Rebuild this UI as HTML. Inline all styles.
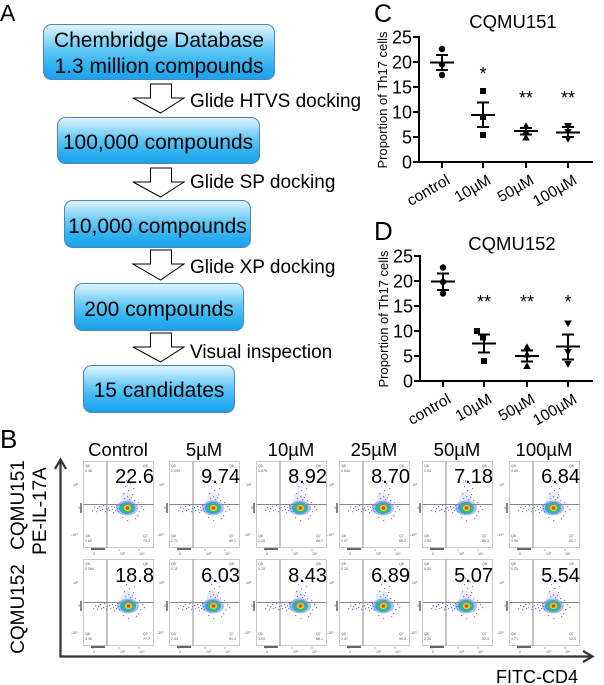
<!DOCTYPE html>
<html><head><meta charset="utf-8"><style>
html,body{margin:0;padding:0;background:#fff;}
svg{display:block;font-family:"Liberation Sans",Arial,sans-serif;}
.t{font-size:3.6px;fill:#555;}
.bn{font-size:20px;text-anchor:end;fill:#000;}
</style></head><body>
<svg width="604" height="685" viewBox="0 0 604 685" xmlns="http://www.w3.org/2000/svg">
<defs>
<linearGradient id="bg" x1="0" y1="0" x2="0" y2="1">
<stop offset="0" stop-color="#e3f5fd"/>
<stop offset="0.45" stop-color="#63c8f5"/>
<stop offset="0.75" stop-color="#2fb1f1"/>
<stop offset="1" stop-color="#1aa2eb"/>
</linearGradient>
<g id="blob">
<ellipse cx="-1" cy="-6" rx="6" ry="10" fill="#8a94e4" opacity="0.2"/>
<ellipse cx="0" cy="0" rx="11" ry="7.5" fill="#5868dc" opacity="0.45"/>
<g fill="#4a5ad8" opacity="0.75">
<rect x="-35" y="2" width="1.2" height="1.2"/><rect x="-33" y="-1" width="1.2" height="1.2"/><rect x="-31" y="3" width="1.2" height="1.2"/><rect x="-30" y="0" width="1.2" height="1.2"/><rect x="-28" y="-2" width="1.2" height="1.2"/><rect x="-27" y="2" width="1.2" height="1.2"/><rect x="-25" y="1" width="1.2" height="1.2"/><rect x="-24" y="-3" width="1.2" height="1.2"/><rect x="-22" y="3" width="1.2" height="1.2"/><rect x="-21" y="0" width="1.2" height="1.2"/><rect x="-19" y="-1" width="1.2" height="1.2"/><rect x="-18" y="2" width="1.2" height="1.2"/><rect x="-16" y="-2" width="1.2" height="1.2"/><rect x="-15" y="1" width="1.2" height="1.2"/><rect x="-14" y="4" width="1.2" height="1.2"/><rect x="-13" y="-1" width="1.2" height="1.2"/><rect x="-12" y="2" width="1.2" height="1.2"/><rect x="-11" y="-3" width="1.2" height="1.2"/><rect x="-10" y="0" width="1.2" height="1.2"/><rect x="-9" y="3" width="1.2" height="1.2"/>
<rect x="-2" y="-22" width="1.2" height="1.2"/><rect x="1" y="-18" width="1.2" height="1.2"/><rect x="3" y="-25" width="1.2" height="1.2"/><rect x="-4" y="-15" width="1.2" height="1.2"/><rect x="0" y="-12" width="1.2" height="1.2"/><rect x="5" y="-14" width="1.2" height="1.2"/><rect x="2" y="-9" width="1.2" height="1.2"/><rect x="-3" y="-10" width="1.2" height="1.2"/><rect x="6" y="-20" width="1.2" height="1.2"/><rect x="-1" y="-28" width="1.2" height="1.2"/><rect x="4" y="-11" width="1.2" height="1.2"/><rect x="7" y="-8" width="1.2" height="1.2"/>
<rect x="12" y="3" width="1.2" height="1.2"/><rect x="14" y="-2" width="1.2" height="1.2"/><rect x="10" y="7" width="1.2" height="1.2"/><rect x="8" y="10" width="1.2" height="1.2"/><rect x="-5" y="9" width="1.2" height="1.2"/><rect x="0" y="12" width="1.2" height="1.2"/><rect x="16" y="1" width="1.2" height="1.2"/><rect x="11" y="-6" width="1.2" height="1.2"/>
</g>
<ellipse cx="0" cy="0" rx="8" ry="6" fill="#2aa8e0"/>
<ellipse cx="0.5" cy="0" rx="5.5" ry="4.5" fill="#3cc050"/>
<ellipse cx="0.5" cy="0" rx="3.5" ry="3" fill="#e8e030"/>
<ellipse cx="0.5" cy="0" rx="2" ry="1.7" fill="#e84020"/>
</g>
<g id="frame">
<rect x="0.5" y="0.5" width="70" height="86" fill="none" stroke="#c8c8c8"/>
<path d="M24 0.5V86.5 M0.5 43.5H70.5" stroke="#888" fill="none"/>
<path d="M-2 42V52" stroke="#333" stroke-width="1.2"/>
<path d="M8 88H22" stroke="#333" stroke-width="1.5"/>
<path d="M36 88V90 M56 88V90 M10 88V90" stroke="#777" stroke-width="0.6"/>
</g>
</defs>

<!-- Panel A -->
<text x="0" y="21" font-size="23">A</text>
<g stroke="#4f86b6" stroke-width="1" fill="url(#bg)">
<rect x="43.5" y="24.5" width="231" height="55" rx="8"/>
<rect x="57.5" y="117.5" width="202" height="46" rx="8"/>
<rect x="64.5" y="200.5" width="186" height="47" rx="8"/>
<rect x="74.5" y="283.5" width="169" height="47" rx="8"/>
<rect x="83.5" y="365.5" width="151" height="47" rx="8"/>
</g>
<g font-size="21" text-anchor="middle" fill="#000">
<text x="159" y="47">Chembridge Database</text>
<text x="159" y="73">1.3 million compounds</text>
<text x="158" y="149">100,000 compounds</text>
<text x="157.5" y="233">10,000 compounds</text>
<text x="159" y="316">200 compounds</text>
<text x="159" y="397">15 candidates</text>
</g>
<g fill="#fff" stroke="#000" stroke-width="1">
<polygon points="150.5,84 171.5,84 171.5,98 184,98 160.5,113 133,98 150.5,98"/>
<polygon points="150.5,168 171.5,168 171.5,182 184,182 160.5,197 133,182 150.5,182"/>
<polygon points="150.5,250 171.5,250 171.5,264 184,264 160.5,280 133,264 150.5,264"/>
<polygon points="150.5,333 171.5,333 171.5,347 184,347 160.5,362 133,347 150.5,347"/>
</g>
<g font-size="19" fill="#000">
<text x="190" y="107">Glide HTVS docking</text>
<text x="190" y="188">Glide SP docking</text>
<text x="190" y="273">Glide XP docking</text>
<text x="190" y="358">Visual inspection</text>
</g>

<!-- Panel C -->
<text x="374" y="22" font-size="25">C</text>
<text x="513" y="28" font-size="18.5" text-anchor="middle">CQMU151</text>
<text transform="translate(387,100) rotate(-90)" font-size="13" text-anchor="middle">Proportion of Th17 cells</text>
<g stroke="#000" stroke-width="2" fill="none">
<path d="M419 36V162H593"/>
<path d="M413 37H419M413 62H419M413 87H419M413 112H419M413 137H419M413 162H419"/>
<path d="M442 162V168M483 162V168M526 162V168M568 162V168"/>
</g>
<g font-size="18" text-anchor="end">
<text x="412" y="43.5">25</text><text x="412" y="68.5">20</text><text x="412" y="93.5">15</text><text x="412" y="118.5">10</text><text x="412" y="143.5">5</text><text x="412" y="168.5">0</text>
</g>
<g font-size="15.5" text-anchor="end">
<text transform="translate(451,183) rotate(-30)">control</text>
<text transform="translate(492,183) rotate(-30)">10µM</text>
<text transform="translate(535,183) rotate(-30)">50µM</text>
<text transform="translate(578,183) rotate(-30)">100µM</text>
</g>
<g fill="#000">
<circle cx="442" cy="49" r="3.2"/><circle cx="442" cy="64.5" r="3.2"/><circle cx="442" cy="75" r="3.2"/>
<rect x="480" y="88" width="6" height="6"/><rect x="480" y="114" width="6" height="6"/><rect x="480" y="132" width="6" height="6"/>
<polygon points="526,122.2 522.2,129 529.8,129"/><polygon points="526,127.7 522.2,134.5 529.8,134.5"/><polygon points="526,133.7 522.2,140.5 529.8,140.5"/>
<polygon points="568,129.8 564.2,123 571.8,123"/><polygon points="568,135.8 564.2,129 571.8,129"/><polygon points="568,142.8 564.2,136 571.8,136"/>
</g>
<g stroke="#000" stroke-width="2" fill="none">
<path d="M430 62.5H454M436 55H448M436 70H448M442 55V70"/>
<path d="M471 115H495M477 102.5H489M477 127H489M483 102.5V127"/>
<path d="M514 131H538M520 128H532M520 134.5H532M526 128V134.5"/>
<path d="M556 132.5H580M562 127H574M562 137H574M568 127V137"/>
</g>
<g font-size="18" text-anchor="middle">
<text x="483" y="80">*</text><text x="526" y="104">**</text><text x="568" y="104">**</text>
</g>

<!-- Panel D -->
<text x="374" y="240" font-size="26">D</text>
<text x="512" y="250" font-size="18.5" text-anchor="middle">CQMU152</text>
<text transform="translate(388,319) rotate(-90)" font-size="13" text-anchor="middle">Proportion of Th17 cells</text>
<g stroke="#000" stroke-width="2" fill="none">
<path d="M420 255V381H593"/>
<path d="M414 256H420M414 281H420M414 306H420M414 331H420M414 356H420M414 381H420"/>
<path d="M443 381V387M484 381V387M527 381V387M568 381V387"/>
</g>
<g font-size="18" text-anchor="end">
<text x="413" y="262.5">25</text><text x="413" y="287.5">20</text><text x="413" y="312.5">15</text><text x="413" y="337.5">10</text><text x="413" y="362.5">5</text><text x="413" y="387.5">0</text>
</g>
<g font-size="15.5" text-anchor="end">
<text transform="translate(452,402) rotate(-30)">control</text>
<text transform="translate(493,402) rotate(-30)">10µM</text>
<text transform="translate(536,402) rotate(-30)">50µM</text>
<text transform="translate(578,402) rotate(-30)">100µM</text>
</g>
<g fill="#000">
<circle cx="443" cy="267.5" r="3.2"/><circle cx="443" cy="282" r="3.2"/><circle cx="443" cy="293.5" r="3.2"/>
<rect x="474" y="328" width="6" height="6"/><rect x="480" y="334.5" width="6" height="6"/><rect x="481" y="358" width="6" height="6"/>
<polygon points="527,343.2 523.2,350 530.8,350"/><polygon points="527,350.7 523.2,357.5 530.8,357.5"/><polygon points="527,362.2 523.2,369 530.8,369"/>
<polygon points="568,327.3 564.2,320.5 571.8,320.5"/><polygon points="568,355.8 564.2,349 571.8,349"/><polygon points="568,367.8 564.2,361 571.8,361"/>
</g>
<g stroke="#000" stroke-width="2" fill="none">
<path d="M431 281.5H455M437 273.5H449M437 290H449M443 273.5V290"/>
<path d="M472 343.5H496M478 334.5H490M478 352.5H490M484 334.5V352.5"/>
<path d="M515 356H539M521 350.5H533M521 361.5H533M527 350.5V361.5"/>
<path d="M556 346.5H580M562 334.5H574M562 359.5H574M568 334.5V359.5"/>
</g>
<g font-size="18" text-anchor="middle">
<text x="484" y="308">**</text><text x="527" y="308">**</text><text x="568" y="308">*</text>
</g>

<!-- Panel B -->
<text x="0" y="448" font-size="26">B</text>
<g font-size="18.5" text-anchor="middle">
<text x="118" y="456">Control</text>
<text x="204" y="456">5µM</text>
<text x="291" y="456">10µM</text>
<text x="374" y="456">25µM</text>
<text x="457" y="456">50µM</text>
<text x="544" y="456">100µM</text>
</g>
<g font-size="19" text-anchor="middle">
<text transform="translate(24,505) rotate(-90)">CQMU151</text>
<text transform="translate(46,511) rotate(-90)">PE-IL-17A</text>
<text transform="translate(24,609) rotate(-90)">CQMU152</text>
</g>
<g stroke="#333" stroke-width="2.2" fill="none">
<path d="M60.5 460V656.5H592"/>
<path d="M55 469L60.5 459.5L66 469"/>
<path d="M583 651L592.5 656.5L583 662"/>
</g>
<text x="496" y="683" font-size="18">FITC-CD4</text>

<!-- Row 1 -->
<g transform="translate(83,461)">
<use href="#blob" x="44" y="47"/><use href="#frame"/>
<text class="t" x="2" y="6">Q5</text><text class="t" x="2" y="11">0.38</text><text class="t" x="60" y="6">Q6</text><text class="t" x="2" y="76">Q8</text><text class="t" x="2" y="81">2.69</text><text class="t" x="60" y="76">Q7</text><text class="t" x="60" y="81">74.3</text>
<text class="t" x="-10" y="25">10³</text><text class="t" x="-5" y="48">0</text><text class="t" x="-12" y="75">-10³</text>
<text class="t" x="10" y="94">0</text><text class="t" x="37" y="94">10³</text><text class="t" x="56" y="94">10⁴</text>
<text class="bn" x="71" y="22">22.6</text>
</g>
<g transform="translate(169,461)">
<use href="#blob" x="44" y="47"/><use href="#frame"/>
<text class="t" x="2" y="6">Q5</text><text class="t" x="2" y="11">0.093</text><text class="t" x="60" y="6">Q6</text><text class="t" x="2" y="76">Q8</text><text class="t" x="2" y="81">2.71</text><text class="t" x="60" y="76">Q7</text><text class="t" x="60" y="81">88.1</text>
<text class="t" x="-10" y="25">10³</text><text class="t" x="-5" y="48">0</text><text class="t" x="-12" y="75">-10³</text>
<text class="t" x="10" y="94">0</text><text class="t" x="37" y="94">10³</text><text class="t" x="56" y="94">10⁴</text>
<text class="bn" x="71" y="22">9.74</text>
</g>
<g transform="translate(256,461)">
<use href="#blob" x="44" y="47"/><use href="#frame"/>
<text class="t" x="2" y="6">Q5</text><text class="t" x="2" y="11">0.079</text><text class="t" x="60" y="6">Q6</text><text class="t" x="2" y="76">Q8</text><text class="t" x="2" y="81">2.29</text><text class="t" x="60" y="76">Q7</text><text class="t" x="60" y="81">88.7</text>
<text class="t" x="-10" y="25">10³</text><text class="t" x="-5" y="48">0</text><text class="t" x="-12" y="75">-10³</text>
<text class="t" x="10" y="94">0</text><text class="t" x="37" y="94">10³</text><text class="t" x="56" y="94">10⁴</text>
<text class="bn" x="71" y="22">8.92</text>
</g>
<g transform="translate(339,461)">
<use href="#blob" x="44" y="47"/><use href="#frame"/>
<text class="t" x="2" y="6">Q5</text><text class="t" x="2" y="11">0.040</text><text class="t" x="60" y="6">Q6</text><text class="t" x="2" y="76">Q8</text><text class="t" x="2" y="81">2.07</text><text class="t" x="60" y="76">Q7</text><text class="t" x="60" y="81">89.2</text>
<text class="t" x="-10" y="25">10³</text><text class="t" x="-5" y="48">0</text><text class="t" x="-12" y="75">-10³</text>
<text class="t" x="10" y="94">0</text><text class="t" x="37" y="94">10³</text><text class="t" x="56" y="94">10⁴</text>
<text class="bn" x="71" y="22">8.70</text>
</g>
<g transform="translate(422,461)">
<use href="#blob" x="44" y="47"/><use href="#frame"/>
<text class="t" x="2" y="6">Q5</text><text class="t" x="2" y="11">1.03</text><text class="t" x="60" y="6">Q6</text><text class="t" x="2" y="76">Q8</text><text class="t" x="2" y="81">2.90</text><text class="t" x="60" y="76">Q7</text><text class="t" x="60" y="81">88.3</text>
<text class="t" x="-10" y="25">10³</text><text class="t" x="-5" y="48">0</text><text class="t" x="-12" y="75">-10³</text>
<text class="t" x="10" y="94">0</text><text class="t" x="37" y="94">10³</text><text class="t" x="56" y="94">10⁴</text>
<text class="bn" x="71" y="22">7.18</text>
</g>
<g transform="translate(509,461)">
<use href="#blob" x="44" y="47"/><use href="#frame"/>
<text class="t" x="2" y="6">Q5</text><text class="t" x="2" y="11">0.49</text><text class="t" x="60" y="6">Q6</text><text class="t" x="2" y="76">Q8</text><text class="t" x="2" y="81">1.96</text><text class="t" x="60" y="76">Q7</text><text class="t" x="60" y="81">90.7</text>
<text class="t" x="-10" y="25">10³</text><text class="t" x="-5" y="48">0</text><text class="t" x="-12" y="75">-10³</text>
<text class="t" x="10" y="94">0</text><text class="t" x="37" y="94">10³</text><text class="t" x="56" y="94">10⁴</text>
<text class="bn" x="71" y="22">6.84</text>
</g>

<!-- Row 2 -->
<g transform="translate(83,559)">
<use href="#blob" x="45" y="47"/><use href="#frame"/>
<text class="t" x="2" y="6">Q5</text><text class="t" x="2" y="11">0.084</text><text class="t" x="60" y="6">Q6</text><text class="t" x="2" y="76">Q8</text><text class="t" x="2" y="81">3.38</text><text class="t" x="60" y="76">Q7</text><text class="t" x="60" y="81">77.7</text>
<text class="t" x="-10" y="25">10³</text><text class="t" x="-5" y="48">0</text><text class="t" x="-12" y="75">-10³</text>
<text class="t" x="10" y="94">0</text><text class="t" x="37" y="94">10³</text><text class="t" x="56" y="94">10⁴</text>
<text class="bn" x="71" y="23">18.8</text>
</g>
<g transform="translate(169,559)">
<use href="#blob" x="44" y="47"/><use href="#frame"/>
<text class="t" x="2" y="6">Q5</text><text class="t" x="2" y="11">0.11</text><text class="t" x="60" y="6">Q6</text><text class="t" x="2" y="76">Q8</text><text class="t" x="2" y="81">2.43</text><text class="t" x="60" y="76">Q7</text><text class="t" x="60" y="81">91.4</text>
<text class="t" x="-10" y="25">10³</text><text class="t" x="-5" y="48">0</text><text class="t" x="-12" y="75">-10³</text>
<text class="t" x="10" y="94">0</text><text class="t" x="37" y="94">10³</text><text class="t" x="56" y="94">10⁴</text>
<text class="bn" x="71" y="23">6.03</text>
</g>
<g transform="translate(256,559)">
<use href="#blob" x="44" y="47"/><use href="#frame"/>
<text class="t" x="2" y="6">Q5</text><text class="t" x="2" y="11">0.10</text><text class="t" x="60" y="6">Q6</text><text class="t" x="2" y="76">Q8</text><text class="t" x="2" y="81">3.03</text><text class="t" x="60" y="76">Q7</text><text class="t" x="60" y="81">88.1</text>
<text class="t" x="-10" y="25">10³</text><text class="t" x="-5" y="48">0</text><text class="t" x="-12" y="75">-10³</text>
<text class="t" x="10" y="94">0</text><text class="t" x="37" y="94">10³</text><text class="t" x="56" y="94">10⁴</text>
<text class="bn" x="71" y="23">8.43</text>
</g>
<g transform="translate(339,559)">
<use href="#blob" x="44" y="47"/><use href="#frame"/>
<text class="t" x="2" y="6">Q5</text><text class="t" x="2" y="11">0.10</text><text class="t" x="60" y="6">Q6</text><text class="t" x="2" y="76">Q8</text><text class="t" x="2" y="81">2.47</text><text class="t" x="60" y="76">Q7</text><text class="t" x="60" y="81">90.5</text>
<text class="t" x="-10" y="25">10³</text><text class="t" x="-5" y="48">0</text><text class="t" x="-12" y="75">-10³</text>
<text class="t" x="10" y="94">0</text><text class="t" x="37" y="94">10³</text><text class="t" x="56" y="94">10⁴</text>
<text class="bn" x="71" y="23">6.89</text>
</g>
<g transform="translate(422,559)">
<use href="#blob" x="44" y="47"/><use href="#frame"/>
<text class="t" x="2" y="6">Q5</text><text class="t" x="2" y="11">0.20</text><text class="t" x="60" y="6">Q6</text><text class="t" x="2" y="76">Q8</text><text class="t" x="2" y="81">2.35</text><text class="t" x="60" y="76">Q7</text><text class="t" x="60" y="81">92.3</text>
<text class="t" x="-10" y="25">10³</text><text class="t" x="-5" y="48">0</text><text class="t" x="-12" y="75">-10³</text>
<text class="t" x="10" y="94">0</text><text class="t" x="37" y="94">10³</text><text class="t" x="56" y="94">10⁴</text>
<text class="bn" x="71" y="23">5.07</text>
</g>
<g transform="translate(509,559)">
<use href="#blob" x="44" y="47"/><use href="#frame"/>
<text class="t" x="2" y="6">Q5</text><text class="t" x="2" y="11">0.33</text><text class="t" x="60" y="6">Q6</text><text class="t" x="2" y="76">Q8</text><text class="t" x="2" y="81">1.71</text><text class="t" x="60" y="76">Q7</text><text class="t" x="60" y="81">92.4</text>
<text class="t" x="-10" y="25">10³</text><text class="t" x="-5" y="48">0</text><text class="t" x="-12" y="75">-10³</text>
<text class="t" x="10" y="94">0</text><text class="t" x="37" y="94">10³</text><text class="t" x="56" y="94">10⁴</text>
<text class="bn" x="71" y="23">5.54</text>
</g>
</svg>
</body></html>
